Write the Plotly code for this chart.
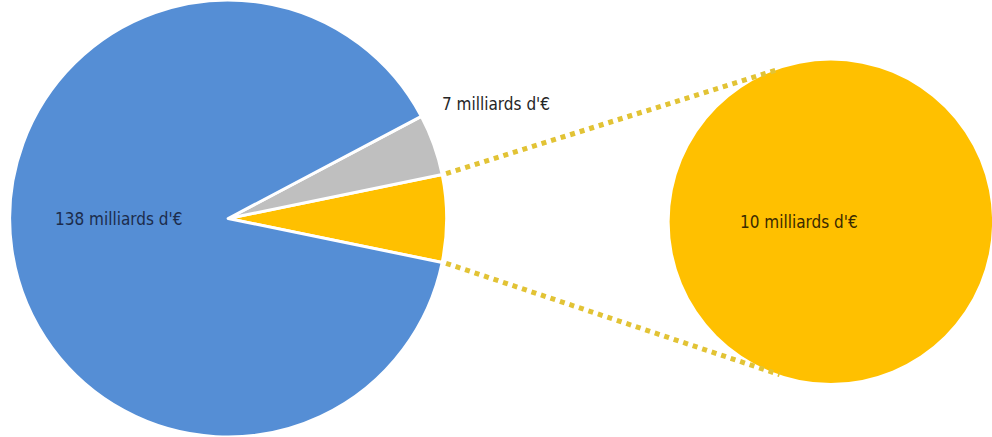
import math
import plotly.graph_objects as go

# Data
labels = ["Part jaune", "Part grise", "Part bleue"]
values = [10, 7, 138]
grey_label = "7 milliards d'€"
blue_label = "138 milliards d'€"
zoom_labels = ["Part jaune"]
zoom_values = [10]
zoom_label = "10 milliards d'€"

colors = ["#FFC000", "#BFBFBF", "#558ED5"]
text_colors = ["#3a2a00", "#262626", "#1c2c4c"]
FONT = "Liberation Sans Narrow, DejaVu Sans Condensed, Roboto Condensed, Arial Narrow, DejaVu Sans, sans-serif"

W, H = 992, 437
dom1_x = [0.0, 0.46]
dom1_y = [0.0, 1.0]
dom2_x = [0.675, 1.0]
dom2_y = [0.115, 0.87]

total = sum(values)
half_yellow = values[0] / total * 360 / 2

fig = go.Figure()
fig.add_trace(go.Pie(
    labels=labels, values=values,
    textinfo="none", sort=False, direction="counterclockwise",
    rotation=90 - half_yellow,
    marker=dict(colors=colors, line=dict(color="white", width=3)),
    domain=dict(x=dom1_x, y=dom1_y),
    showlegend=False, hoverinfo="label+value",
))
fig.add_trace(go.Pie(
    labels=zoom_labels, values=zoom_values,
    textinfo="none", sort=False,
    marker=dict(colors=["#FFC000"], line=dict(color="white", width=0)),
    domain=dict(x=dom2_x, y=dom2_y),
    showlegend=False, hoverinfo="label+value",
))

# Connector geometry derived from domains
def circle(domx, domy):
    x0, x1 = domx[0] * W, domx[1] * W
    y0, y1 = domy[0] * H, domy[1] * H
    r = min(x1 - x0, y1 - y0) / 2
    return (x0 + x1) / 2, (y0 + y1) / 2, r

c1x, c1y, r1 = circle(dom1_x, dom1_y)
c2x, c2y, r2 = circle(dom2_x, dom2_y)
end_angle = 108.5
for sgn in (1, -1):
    a1 = math.radians(sgn * half_yellow)
    sx, sy = c1x + (r1 + 4) * math.cos(a1), c1y + (r1 + 4) * math.sin(a1)
    a2 = math.radians(sgn * end_angle)
    ex, ey = c2x + r2 * math.cos(a2), c2y + r2 * math.sin(a2)
    fig.add_shape(type="line", xref="paper", yref="paper",
                  x0=sx / W, y0=sy / H, x1=ex / W, y1=ey / H,
                  line=dict(color="#E2C335", width=5, dash="dot"))

# Grey slice label, outside above the grey slice
grey_mid = math.radians(half_yellow + values[1] / total * 360 / 2)
fig.add_annotation(xref="paper", yref="paper",
                   x=(c1x + r1 * 1.03 * math.cos(grey_mid)) / W,
                   y=(c1y + r1 * 1.71 * math.sin(grey_mid)) / H,
                   text=grey_label, showarrow=False, xanchor="left",
                   font=dict(family=FONT, size=17, color=text_colors[1]))

# Blue slice label, inside on the left half
fig.add_annotation(xref="paper", yref="paper",
                   x=(c1x - 0.5 * r1) / W, y=c1y / H,
                   text=blue_label, showarrow=False, xanchor="center",
                   font=dict(family=FONT, size=17, color=text_colors[2]))

# Zoom circle label
fig.add_annotation(xref="paper", yref="paper",
                   x=(c2x - 0.2 * r2) / W, y=c2y / H,
                   text=zoom_label, showarrow=False, xanchor="center",
                   font=dict(family=FONT, size=17, color=text_colors[0]))

fig.update_layout(width=W, height=H, margin=dict(l=0, r=0, t=0, b=0),
                  paper_bgcolor="white", plot_bgcolor="white")
fig.write_html("out.html")
